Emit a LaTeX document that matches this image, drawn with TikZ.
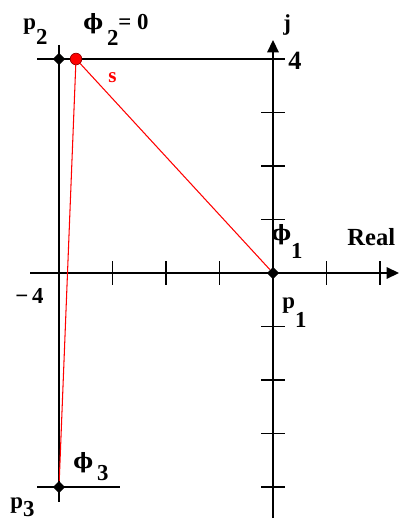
\documentclass[tikz,border=0pt]{standalone}
\usepackage{fontspec}
\setmainfont{Liberation Serif}
\newfontfamily\phifont{DejaVu Serif}
\newcommand{\myphi}{{\phifont\bfseries\fontsize{12}{14}\selectfont ϕ}}
\usetikzlibrary{arrows.meta,shapes.geometric}
\begin{document}
\begin{tikzpicture}[x=0.02cm,y=-0.02cm,
  axis/.style={line width=0.9pt,black},
  tickmark/.style={line width=0.9pt,black},
  arr/.style={-{Triangle[length=7pt,width=6.5pt]}},
  pole/.style={diamond,fill=black,inner sep=0pt,minimum size=7pt},
  spt/.style={circle,fill=red,draw=red!60!black,line width=0.4pt,inner sep=0pt,minimum size=6.6pt},
  redline/.style={red,line width=0.6pt},
  lbl/.style={inner sep=0pt,anchor=base west,font=\fontsize{13}{15}\selectfont\bfseries}]
\useasboundingbox (0,0) rectangle (400,520);
% axes
\coordinate (xs) at (30,273);
\coordinate (xe) at (399,273);
\coordinate (ys) at (273,518);
\coordinate (ye) at (273,40);
\draw[axis,arr] (xs) -- (xe);
\draw[axis,arr] (ys) -- (ye);
\foreach \x in {112.5,166,219.5,326.5,380} \draw[tickmark] (\x,261) -- (\x,285);
\foreach \y in {112.5,166,219.5,326.5,380,433.5,487} \draw[tickmark] (261,\y) -- (285,\y);
% guide lines
\coordinate (tl) at (37,59);
\coordinate (tr) at (285,59);
\coordinate (lt) at (59,45);
\coordinate (lb) at (59,502);
\coordinate (bl) at (37,487);
\coordinate (br) at (120,487);
\draw[axis] (tl) -- (tr);
\draw[axis] (lt) -- (lb);
\draw[axis] (bl) -- (br);
% points
\node[pole] (p1) at (273,273) {};
\node[pole] (p2) at (59,59) {};
\node[pole] (p3) at (59,487) {};
\node[spt] (s) at (76,59) {};
\draw[redline] (s) -- (p1);
\draw[redline] (s) -- (p3);
% labels
\node[lbl] (lp2) at (23,30) {p\raisebox{-8.5pt}{2}};
\node[lbl] (lphi2) at (83,30) {\myphi\,\raisebox{-9pt}{2}= 0};
\node[lbl,red,font=\fontsize{12}{14}\selectfont\bfseries] (ls) at (108,83) {s};
\node[lbl] (lj) at (283,31) {j};
\node[lbl,font=\fontsize{15}{17}\selectfont\bfseries] (l4) at (288,70) {4};
\node[lbl] (lphi1) at (271,240) {\myphi\raisebox{-10.8pt}{1}};
\node[lbl,font=\fontsize{14}{16}\selectfont\bfseries] (lreal) at (347,245) {Real};
\node[lbl] (lm4) at (15,303) {−\,4};
\node[lbl] (lp1) at (282,308) {p\raisebox{-11pt}{1}};
\node[lbl] (lphi3) at (73,468) {\myphi\,\raisebox{-7pt}{3}};
\node[lbl] (lp3) at (10,508) {p\raisebox{-5pt}{3}};
\end{tikzpicture}
\end{document}
